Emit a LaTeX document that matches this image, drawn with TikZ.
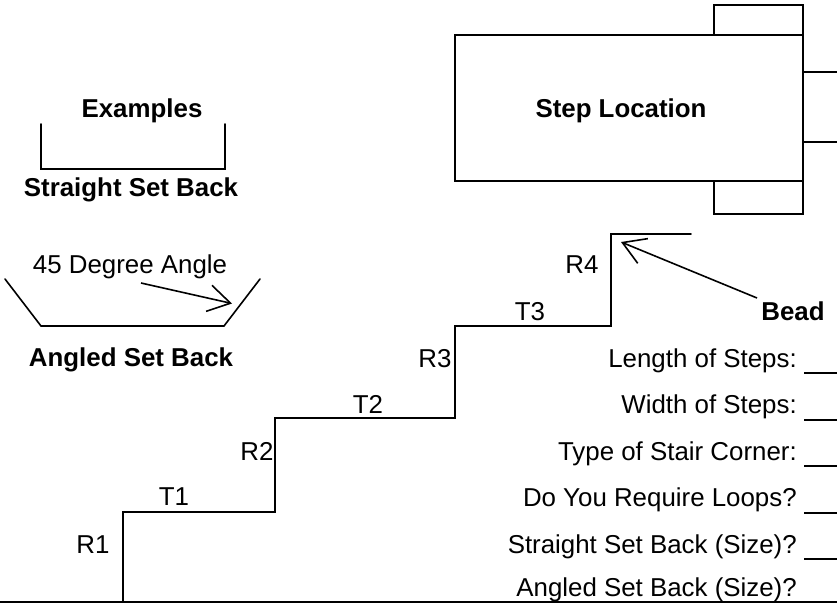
\documentclass[tikz,border=0pt]{standalone}
\usepackage{fontspec}
\setmainfont{Liberation Sans}
\usetikzlibrary{arrows.meta}

\begin{document}
\begin{tikzpicture}[x=0.75pt, y=-0.75pt]
        \tikzstyle{label} = [anchor=base, inner sep=0pt, font=\fontsize{19.4pt}{23pt}\selectfont]
        \tikzstyle{title} = [label, font=\fontsize{19.4pt}{23pt}\selectfont\bfseries]
        \tikzstyle{rowlabel} = [label, anchor=base east]
        \tikzstyle{box} = [draw, line width=1.2pt, inner sep=0pt]
        \tikzstyle{stroke} = [line width=1.2pt, line cap=round, line join=miter]
        \tikzstyle{pointer} = [line width=1.2pt, -{Straight Barb[length=16.5pt, width=20pt, line width=1.2pt]}]
        \useasboundingbox (0, 0) rectangle (837, 603);

        % Caja de ubicacion
        \node[box, minimum width=261pt, minimum height=109.5pt](location) at (629, 108) {};
        \node[title] (locationtext) at (621, 117) {Step Location};
        \node[box, minimum width=66.75pt, minimum height=22.5pt](tabtop) at (758.5, 20) {};
        \node[box, minimum width=66.75pt, minimum height=24.75pt](tabbottom) at (758.5, 197.5) {};
        \coordinate (stubtop) at (837, 72);
        \coordinate (stubbottom) at (837, 142);
        \draw[stroke] (location.east |- stubtop) -- (stubtop);
        \draw[stroke] (location.east |- stubbottom) -- (stubbottom);

        % Ejemplos
        \node[title] (examples) at (142, 117) {Examples};
        \node[title] (straight) at (131, 196) {Straight Set Back};
        \coordinate (s1) at (41, 124);
        \coordinate (s2) at (41, 169);
        \coordinate (s3) at (225, 169);
        \coordinate (s4) at (225, 124);
        \draw[stroke] (s1) -- (s2) -- (s3) -- (s4);

        \node[label] (degree) at (130, 273) {45 Degree Angle};
        \node[title] (angled) at (131, 366) {Angled Set Back};
        \coordinate (a1) at (5, 279);
        \coordinate (a2) at (41, 326);
        \coordinate (a3) at (224, 326);
        \coordinate (a4) at (260, 279);
        \coordinate (anglefrom) at (141, 283);
        \coordinate (angleto) at (232, 303.5);
        \draw[stroke] (a1) -- (a2) -- (a3) -- (a4);
        \draw[pointer] (anglefrom) -- (angleto);

        % Escalera
        \coordinate (c0) at (123, 602);
        \coordinate (c1) at (123, 512);
        \coordinate (c2) at (275, 512);
        \coordinate (c3) at (275, 418);
        \coordinate (c4) at (455, 418);
        \coordinate (c5) at (455, 326);
        \coordinate (c6) at (611, 326);
        \coordinate (c7) at (611, 234);
        \coordinate (c8) at (691, 234);
        \draw[stroke] (c0) -- (c1) -- (c2) -- (c3) -- (c4) -- (c5) -- (c6) -- (c7) -- (c8);

        \node[label] (r1) at (93, 553) {R1};
        \node[label] (r2) at (257, 460) {R2};
        \node[label] (r3) at (435, 367) {R3};
        \node[label] (r4) at (582, 273) {R4};
        \node[label] (t1) at (174, 505) {T1};
        \node[label] (t2) at (368, 413) {T2};
        \node[label] (t3) at (530, 320) {T3};

        % Cordon
        \node[title] (bead) at (793, 320) {Bead};
        \coordinate (beadfrom) at (757, 298);
        \coordinate (beadto) at (621, 242);
        \draw[pointer] (beadfrom) -- (beadto);

        % Filas de datos
        \foreach \ypos/\yline/\rowtext [count=\i] in {367/373/Length of Steps:, 413/420/Width of Steps:, 460/466/Type of Stair Corner:, 506/513/Do You Require Loops?, 553/559/Straight Set Back (Size)?} {
            \node[rowlabel] (row\i) at (797, \ypos) {\rowtext};
            \coordinate (linefrom\i) at (804, \yline);
            \coordinate (lineto\i) at (837, \yline);
            \draw[line width=2.2pt] (linefrom\i) -- (lineto\i);
        }
        \node[rowlabel] (row6) at (797, 596) {Angled Set Back (Size)?};

        % Linea base
        \coordinate (base1) at (0, 602);
        \coordinate (base2) at (837, 602);
        \draw[line width=1pt] (base1) -- (base2);
    \end{tikzpicture}
\end{document}
